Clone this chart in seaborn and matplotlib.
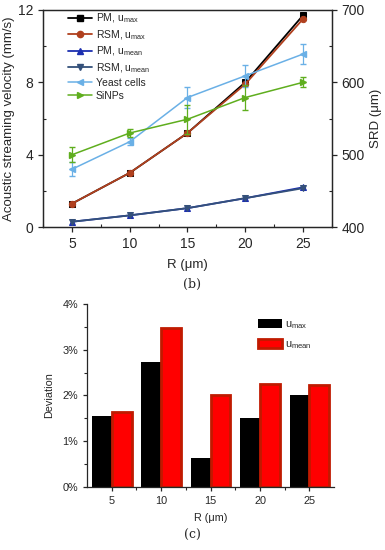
import numpy as np
import pandas as pd
import matplotlib
matplotlib.use("Agg")
import matplotlib.pyplot as plt
import seaborn as sns
from matplotlib.ticker import MultipleLocator, FuncFormatter

sns.set_style("ticks")
plt.rcParams['font.family'] = ['Liberation Sans', 'DejaVu Sans']
plt.rcParams['mathtext.fontset'] = 'custom'
plt.rcParams['mathtext.rm'] = 'Liberation Sans'

R = [5, 10, 15, 20, 25]
pm_umax = [1.3, 3.0, 5.2, 8.0, 11.7]
rsm_umax = [1.3, 3.0, 5.2, 7.9, 11.5]
pm_umean = [0.3, 0.65, 1.05, 1.6, 2.2]
rsm_umean = [0.3, 0.65, 1.05, 1.6, 2.15]
yeast = [480, 518, 579, 609, 639]
yeast_err = [10, 5, 15, 15, 14]
sinps = [500, 530, 549, 579, 600]
sinps_err = [10, 5, 20, 17, 7]

dev_R = ["5", "10", "15", "20", "25"]
dev_umax = [1.55, 2.74, 0.64, 1.50, 2.01]
dev_umean = [1.63, 3.47, 2.00, 2.24, 2.23]

fig = plt.figure(figsize=(3.85, 5.5), dpi=100)

# ---------- top chart ----------
ax = fig.add_axes([0.112, 0.587, 0.75, 0.395])
ax2 = ax.twinx()

series = [
    ("PM, u$_{\\mathregular{max}}$", pm_umax, "#000000", "s"),
    ("RSM, u$_{\\mathregular{max}}$", rsm_umax, "#b0401e", "o"),
    ("PM, u$_{\\mathregular{mean}}$", pm_umean, "#1c2fb0", "^"),
    ("RSM, u$_{\\mathregular{mean}}$", rsm_umean, "#34507a", "v"),
]
handles = []
for lab, vals, col, mk in series:
    df = pd.DataFrame({"R": R, "v": vals})
    sns.lineplot(data=df, x="R", y="v", ax=ax, color=col, marker=mk,
                 markersize=4.5, markeredgecolor=col, linewidth=1.3, label=lab, legend=False)
    handles.append(plt.Line2D([], [], color=col, marker=mk, markersize=4.5, lw=1.3))

ax2.errorbar(R, yeast, yerr=yeast_err, color="#6ab0e6", marker="<", markersize=4.5,
             linewidth=1.1, capsize=2.5, elinewidth=0.9)
ax2.errorbar(R, sinps, yerr=sinps_err, color="#5fae1e", marker=">", markersize=4.5,
             linewidth=1.1, capsize=2.5, elinewidth=0.9)
handles.append(plt.Line2D([], [], color="#6ab0e6", marker="<", markersize=4.5, lw=1.1))
handles.append(plt.Line2D([], [], color="#5fae1e", marker=">", markersize=4.5, lw=1.1))
labels = [s[0] for s in series] + ["Yeast cells", "SiNPs"]

ax.set_xlim(2.5, 27.5)
ax.set_ylim(0, 12)
ax2.set_ylim(400, 700)
ax.set_xticks(R)
ax.set_yticks([0, 4, 8, 12])
ax.yaxis.set_minor_locator(MultipleLocator(2))
ax.xaxis.set_minor_locator(MultipleLocator(2.5))
ax2.set_yticks([400, 500, 600, 700])
ax2.yaxis.set_minor_locator(MultipleLocator(50))
for a in (ax, ax2):
    for sp in a.spines.values():
        sp.set_visible(True)
        sp.set_linewidth(0.9)
    a.tick_params(axis="both", which="major", labelsize=10, length=3.5, width=0.9, direction="out")
    a.tick_params(axis="both", which="minor", length=2, width=0.8, direction="in")
ax.set_xlabel("R (\u03bcm)", fontsize=9.5, labelpad=6)
ax.set_ylabel("Acoustic streaming velocity (mm/s)", fontsize=9.5, labelpad=2)
ax2.set_ylabel("SRD (\u03bcm)", fontsize=9.5, labelpad=4)
ax.legend(handles, labels, loc="upper left", bbox_to_anchor=(0.055, 1.035), frameon=False,
          fontsize=7.5, handlelength=2.3, labelspacing=0.28, handletextpad=0.35)
fig.text(0.5, 0.482, "(b)", ha="center", va="center", fontsize=9, family="DejaVu Serif")

# ---------- bottom chart ----------
bx = fig.add_axes([0.226, 0.115, 0.642, 0.332])
bdf = pd.DataFrame({
    "R": dev_R * 2,
    "dev": dev_umax + dev_umean,
    "kind": ["u$_{\\mathregular{max}}$"] * 5 + ["u$_{\\mathregular{mean}}$"] * 5,
})
sns.barplot(data=bdf, x="R", y="dev", hue="kind", ax=bx,
            palette=["#000000", "#ff0000"], width=0.8, saturation=1, gap=0)
for patch in bx.patches:
    fc = patch.get_facecolor()
    if fc[0] > 0.5:
        patch.set_edgecolor("#c01a00")
        patch.set_linewidth(2.0)
    else:
        patch.set_edgecolor("#000000")
        patch.set_linewidth(0)
bx.set_xlim(-0.5, 4.5)
bx.set_ylim(0, 4)
bx.yaxis.set_major_locator(MultipleLocator(1))
bx.yaxis.set_minor_locator(MultipleLocator(0.5))
bx.yaxis.set_major_formatter(FuncFormatter(lambda v, p: f"{int(round(v))}%"))
bx.set_xticks([0.5, 1.5, 2.5, 3.5], minor=True)
sns.despine(ax=bx)
for sp in bx.spines.values():
    sp.set_linewidth(0.9)
bx.tick_params(axis="both", which="major", labelsize=7.8, length=3, width=0.9, direction="out")
bx.tick_params(axis="both", which="minor", length=2, width=0.8, direction="out")
bx.set_xlabel("R (\u03bcm)", fontsize=7.8, labelpad=5)
bx.set_ylabel("Deviation", fontsize=7.8, labelpad=6)
bx.legend(loc="upper right", bbox_to_anchor=(0.95, 0.97), frameon=False, fontsize=7.8,
          handlelength=2.2, handleheight=0.9, labelspacing=0.7, handletextpad=0.3, title=None)
fig.text(0.5, 0.014, "(c)", ha="center", va="bottom", fontsize=9, family="DejaVu Serif")

fig.savefig("out.png", dpi=100)
